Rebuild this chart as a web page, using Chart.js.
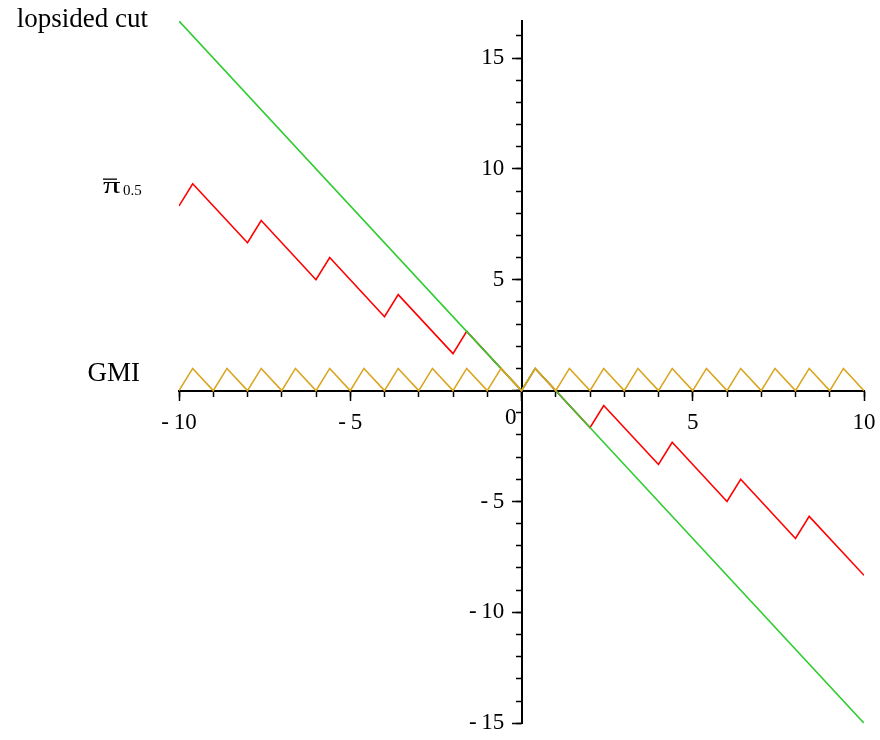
<!DOCTYPE html>
<html>
<head>
<meta charset="utf-8">
<script src="https://cdn.jsdelivr.net/npm/chart.js@4.4.1/dist/chart.umd.min.js"></script>
<style>
  html, body { margin: 0; padding: 0; background: #fff; }
  #wrap { width: 880px; height: 740px; }
</style>
</head>
<body>
<div id="wrap"><canvas id="chart"></canvas></div>
<script>
/* GMI, lopsided cut and pi-bar 0.5 — breakpoints */
const gmiX = [-10, -9.6, -9, -8.6, -8, -7.6, -7, -6.6, -6, -5.6, -5, -4.6, -4, -3.6, -3, -2.6, -2, -1.6, -1, -0.6,
              0, 0.4, 1, 1.4, 2, 2.4, 3, 3.4, 4, 4.4, 5, 5.4, 6, 6.4, 7, 7.4, 8, 8.4, 9, 9.4, 10];
const gmiY = [0, 1, 0, 1, 0, 1, 0, 1, 0, 1, 0, 1, 0, 1, 0, 1, 0, 1, 0, 1,
              0, 1, 0, 1, 0, 1, 0, 1, 0, 1, 0, 1, 0, 1, 0, 1, 0, 1, 0, 1, 0];

const lopX = [-10, 0, 0.4, 10];
const lopY = [16.67, 0, 1, -15];

const piX = [-10, -9.6, -8, -7.6, -6, -5.6, -4, -3.6, -2, -1.6, 0, 0.4, 1, 2, 2.4, 4, 4.4, 6, 6.4, 8, 8.4, 10];
const piY = [8.33, 9.33, 6.67, 7.67, 5, 6, 3.33, 4.33, 1.67, 2.67, 0, 1, 0, -1.67, -0.67, -3.33, -2.33, -5, -4, -6.67, -5.67, -8.33];

const xTickLabels = [-10, -5, 5, 10];
const yTickLabels = [-15, -10, -5, 5, 10, 15];

const X_MIN = -10, X_MAX = 10, Y_MIN = -15, Y_MAX = 16.67;
const FONT = '"Liberation Serif", "Times New Roman", serif';

const pts = (xs, ys) => xs.map((x, i) => ({ x, y: ys[i] }));
const fmt = v => v < 0 ? '-\u2009' + (-v) : String(v);
const noSize = axis => scale => { if (axis === 'x') scale.height = 0; else scale.width = 0; };

// text labels next to the curves + the origin "0"
const curveLabels = {
  id: 'curveLabels',
  afterDraw(chart) {
    const { ctx } = chart;
    const x = chart.scales.x, y = chart.scales.y;
    ctx.save();
    ctx.fillStyle = '#000';
    ctx.textBaseline = 'alphabetic';
    ctx.font = '27px ' + FONT;
    ctx.textAlign = 'right';
    ctx.fillText('lopsided cut', 148, 27);
    ctx.fillText('GMI', 140, 381);
    // pi with a bar, subscript 0.5
    ctx.textAlign = 'left';
    ctx.font = '24px ' + FONT;
    ctx.save();
    ctx.translate(103, 193);
    ctx.scale(1.45, 1);
    ctx.fillText('\u03C0', 0, 0);
    ctx.restore();
    ctx.fillRect(103, 178.5, 14, 1.3);
    ctx.font = '15px ' + FONT;
    ctx.fillText('0.5', 123, 195);
    ctx.font = '23px ' + FONT;
    ctx.textAlign = 'right';
    ctx.textBaseline = 'top';
    ctx.fillText('0', x.getPixelForValue(0) - 5, y.getPixelForValue(0) + 16);
    ctx.restore();
  }
};

const minorGrid = { display: true, drawOnChartArea: false, drawTicks: true, tickLength: 5, tickWidth: 1.5, tickColor: '#000' };
const majorGrid = { display: true, drawOnChartArea: false, drawTicks: true, tickLength: 10, tickWidth: 1.5, tickColor: '#000' };

new Chart(document.getElementById('chart'), {
  type: 'scatter',
  data: {
    datasets: [
      { label: 'GMI', data: pts(gmiX, gmiY), borderColor: '#daa520', order: 0 },
      { label: 'lopsided cut', data: pts(lopX, lopY), borderColor: '#32cd32', order: 1 },
      { label: 'pi 0.5', data: pts(piX, piY), borderColor: '#ff0000', order: 2 }
    ].map(d => ({ ...d, showLine: true, pointRadius: 0, borderWidth: 1.6, fill: false, tension: 0 }))
  },
  options: {
    responsive: true, maintainAspectRatio: false, animation: false,
    devicePixelRatio: 1,
    layout: { padding: { left: 179, right: 16, top: 21, bottom: 14 } },
    plugins: { legend: { display: false }, tooltip: { enabled: false } },
    scales: {
      x: {
        type: 'linear', min: X_MIN, max: X_MAX, position: { y: 0 },
        afterFit: noSize('x'),
        grid: minorGrid,
        border: { display: true, color: '#000', width: 2 },
        ticks: {
          stepSize: 1, autoSkip: false, maxRotation: 0, padding: 4, color: '#000',
          // tall line height pushes the labels below the axis without widening the edge padding
          font: { family: FONT, size: 23, lineHeight: 2.07 },
          callback: v => xTickLabels.includes(v) ? fmt(v) : ''
        }
      },
      y: {
        type: 'linear', min: Y_MIN, max: Y_MAX, position: { x: 0 },
        afterFit: noSize('y'),
        grid: minorGrid,
        border: { display: true, color: '#000', width: 2 },
        ticks: {
          stepSize: 1, autoSkip: false, includeBounds: false, color: '#000',
          font: { family: FONT, size: 23 },
          // labels of an axis placed at a value sit on the axis line: pad them with spaces
          callback: v => yTickLabels.includes(v) ? fmt(v) + '   ' : ''
        }
      },
      xMajor: {
        type: 'linear', axis: 'x', min: X_MIN, max: X_MAX, position: { y: 0 },
        afterFit: noSize('x'),
        grid: majorGrid,
        border: { display: false },
        ticks: { stepSize: 5, display: false }
      },
      yMajor: {
        type: 'linear', axis: 'y', min: Y_MIN, max: Y_MAX, position: { x: 0 },
        afterFit: noSize('y'),
        grid: majorGrid,
        border: { display: false },
        ticks: { stepSize: 5, display: false, includeBounds: false }
      }
    }
  },
  plugins: [curveLabels]
});
</script>
</body>
</html>
